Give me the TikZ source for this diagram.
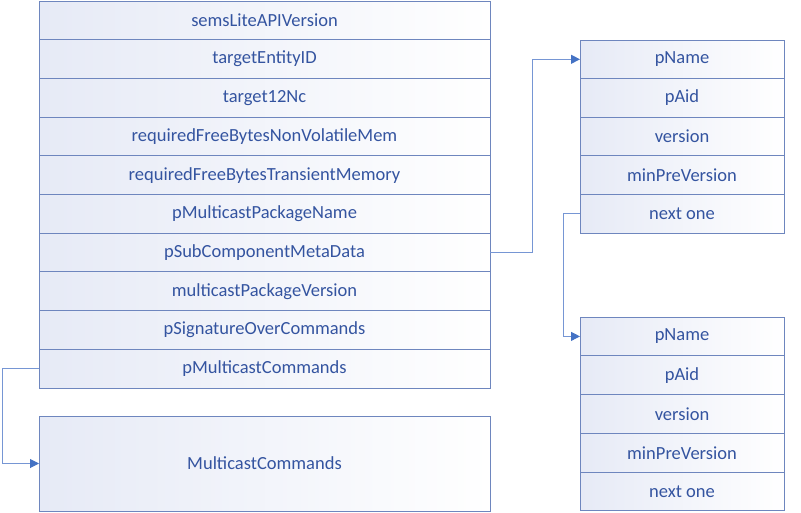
\documentclass[tikz,border=0pt]{standalone}
\usepackage{fontspec}
\setmainfont{Carlito}
\usetikzlibrary{positioning,arrows.meta}
\definecolor{cellline}{RGB}{110,134,190}
\definecolor{celltext}{RGB}{52,84,160}
\definecolor{cellfill}{RGB}{230,234,246}
\definecolor{linkline}{RGB}{118,150,212}
\definecolor{linktip}{RGB}{68,114,196}
\begin{document}
\begin{tikzpicture}[x=1pt,y=-1pt,
	cell/.style={draw=cellline,line width=1pt,left color=cellfill,right color=white,
		text=celltext,inner sep=0pt,outer sep=0pt,font=\fontsize{18.5}{20}\selectfont},
	wide/.style={cell,minimum width=451pt,minimum height=38.7pt},
	narrow/.style={cell,minimum width=204pt,minimum height=38.6pt},
	link/.style={draw=linkline,line width=1pt,-{Triangle[length=9pt,width=9pt,fill=linktip,color=linktip]}}]
	\useasboundingbox (0,0) rectangle (801,512);
	\foreach \t [count=\i] in {semsLiteAPIVersion,targetEntityID,target12Nc,
		requiredFreeBytesNonVolatileMem,requiredFreeBytesTransientMemory,
		pMulticastPackageName,pSubComponentMetaData,multicastPackageVersion,
		pSignatureOverCommands,pMulticastCommands}
		\node[wide] (m\i) at (264.5,{1+38.7*(\i-0.5)}) {\t};
	\foreach \t [count=\i] in {pName,pAid,version,minPreVersion,next one}{
		\node[narrow] (a\i) at (682,{40+38.6*(\i-0.5)}) {\t};
		\node[narrow] (b\i) at (682,{317+38.8*(\i-0.5)}) {\t};
	}
	\node[cell,minimum width=451pt,minimum height=95pt] (mc) at (264.5,463.5) {MulticastCommands};
	\draw[link] (m7.east) -- ++(42,0) |- (a1.west);
	\draw[link] (a5.west) -- ++(-17,0) |- (b1.west);
	\draw[link] (m10.west) -- ++(-37,0) |- (mc.west);
\end{tikzpicture}
\end{document}
